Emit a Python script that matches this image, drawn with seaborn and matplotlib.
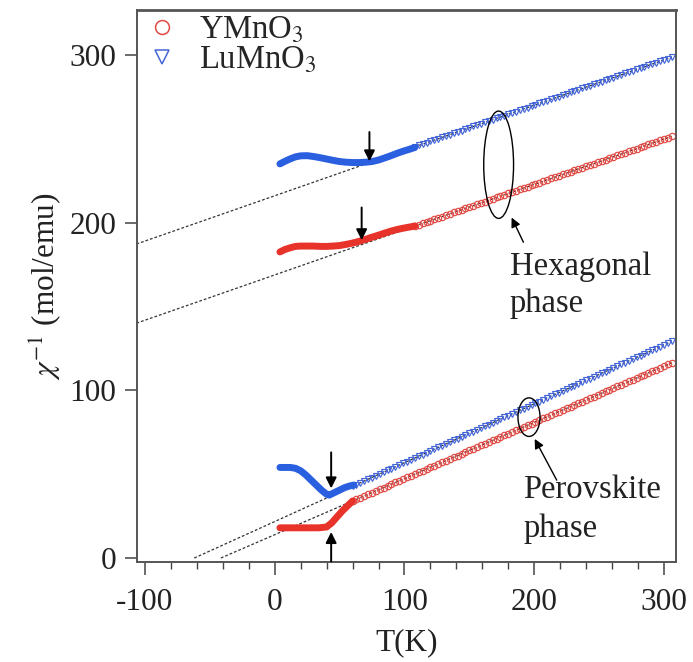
import matplotlib
matplotlib.use("Agg")
import matplotlib.pyplot as plt
from matplotlib.lines import Line2D
from matplotlib.patches import Ellipse
import numpy as np
import pandas as pd
import seaborn as sns

# ---------------- data ----------------
# high-temperature data points, hexagonal phase
hex_T = [108, 111, 114, 117, 120, 123, 126, 129, 132, 135, 138, 141, 144, 147,
         150, 153, 156, 159, 162, 165, 168, 171, 174, 177, 180, 183, 186, 189,
         192, 195, 198, 201, 204, 207, 210, 213, 216, 219, 222, 225, 228, 231,
         234, 237, 240, 243, 246, 249, 252, 255, 258, 261, 264, 267, 270, 273,
         276, 279, 282, 285, 288, 291, 294, 297, 300, 303, 306]
hex_Lu = [245.2, 246.0, 246.8, 247.6, 248.4, 249.2, 250.0, 250.8, 251.6, 252.4,
          253.3, 254.1, 254.9, 255.7, 256.5, 257.3, 258.1, 258.9, 259.7, 260.5,
          261.4, 262.2, 263.0, 263.8, 264.6, 265.4, 266.2, 267.0, 267.8, 268.6,
          269.5, 270.3, 271.1, 271.9, 272.7, 273.5, 274.3, 275.1, 275.9, 276.7,
          277.6, 278.4, 279.2, 280.0, 280.8, 281.6, 282.4, 283.2, 284.0, 284.8,
          285.7, 286.5, 287.3, 288.1, 288.9, 289.7, 290.5, 291.3, 292.1, 292.9,
          293.8, 294.6, 295.4, 296.2, 297.0, 297.8, 298.6]
hex_Y = [198.0, 198.8, 199.6, 200.4, 201.2, 202.0, 202.8, 203.6, 204.4, 205.2,
         206.1, 206.9, 207.7, 208.5, 209.3, 210.1, 210.9, 211.7, 212.5, 213.3,
         214.2, 215.0, 215.8, 216.6, 217.4, 218.2, 219.0, 219.8, 220.6, 221.4,
         222.3, 223.1, 223.9, 224.7, 225.5, 226.3, 227.1, 227.9, 228.7, 229.5,
         230.4, 231.2, 232.0, 232.8, 233.6, 234.4, 235.2, 236.0, 236.8, 237.6,
         238.5, 239.3, 240.1, 240.9, 241.7, 242.5, 243.3, 244.1, 244.9, 245.7,
         246.6, 247.4, 248.2, 249.0, 249.8, 250.6, 251.4]

# high-temperature data points, perovskite phase
per_T = [60, 63, 66, 69, 72, 75, 78, 81, 84, 87, 90, 93, 96, 99, 102, 105, 108,
         111, 114, 117, 120, 123, 126, 129, 132, 135, 138, 141, 144, 147, 150,
         153, 156, 159, 162, 165, 168, 171, 174, 177, 180, 183, 186, 189, 192,
         195, 198, 201, 204, 207, 210, 213, 216, 219, 222, 225, 228, 231, 234,
         237, 240, 243, 246, 249, 252, 255, 258, 261, 264, 267, 270, 273, 276,
         279, 282, 285, 288, 291, 294, 297, 300, 303, 306]
per_Lu = [42.8, 43.8, 44.9, 45.9, 47.0, 48.0, 49.1, 50.1, 51.2, 52.2, 53.3, 54.3,
          55.4, 56.4, 57.5, 58.6, 59.6, 60.7, 61.7, 62.8, 63.8, 64.9, 65.9, 67.0,
          68.0, 69.1, 70.1, 71.2, 72.2, 73.3, 74.4, 75.4, 76.5, 77.5, 78.6, 79.6,
          80.7, 81.7, 82.8, 83.8, 84.9, 85.9, 87.0, 88.0, 89.1, 90.1, 91.2, 92.3,
          93.3, 94.4, 95.4, 96.5, 97.5, 98.6, 99.6, 100.7, 101.7, 102.8, 103.8,
          104.9, 105.9, 107.0, 108.0, 109.1, 110.2, 111.2, 112.3, 113.3, 114.4,
          115.4, 116.5, 117.5, 118.6, 119.6, 120.7, 121.7, 122.8, 123.8, 124.9,
          125.9, 127.0, 128.1, 129.1]
per_Y = [34.0, 35.0, 36.0, 37.0, 38.0, 39.0, 40.0, 41.0, 42.0, 43.0, 44.1, 45.1,
         46.1, 47.1, 48.1, 49.1, 50.1, 51.1, 52.1, 53.1, 54.1, 55.1, 56.1, 57.1,
         58.1, 59.1, 60.1, 61.1, 62.1, 63.1, 64.2, 65.2, 66.2, 67.2, 68.2, 69.2,
         70.2, 71.2, 72.2, 73.2, 74.2, 75.2, 76.2, 77.2, 78.2, 79.2, 80.2, 81.2,
         82.2, 83.2, 84.3, 85.3, 86.3, 87.3, 88.3, 89.3, 90.3, 91.3, 92.3, 93.3,
         94.3, 95.3, 96.3, 97.3, 98.3, 99.3, 100.3, 101.3, 102.3, 103.3, 104.4,
         105.4, 106.4, 107.4, 108.4, 109.4, 110.4, 111.4, 112.4, 113.4, 114.4,
         115.4, 116.4]

# low-temperature dense data (drawn as thick curves)
hexLu_low_T = [4, 8, 12, 16, 20, 25, 30, 35, 40, 45, 50, 55, 60, 65, 70, 75, 80,
               85, 90, 95, 100, 105, 108]
hexLu_low = [235.0, 236.6, 238.0, 239.2, 239.8, 239.9, 239.4, 238.7, 237.9,
             237.1, 236.4, 236.0, 235.8, 235.8, 236.0, 236.4, 237.3, 238.6,
             240.0, 241.5, 242.8, 244.0, 244.8]
hexY_low_T = [4, 8, 12, 16, 20, 25, 30, 35, 40, 45, 50, 55, 60, 65, 70, 75, 80,
              85, 90, 95, 100, 105, 108]
hexY_low = [182.5, 184.0, 185.0, 185.8, 186.0, 186.0, 186.0, 185.8, 185.8,
            186.0, 186.3, 187.0, 187.8, 188.8, 190.0, 191.3, 192.5, 193.8,
            195.0, 196.0, 196.8, 197.5, 198.0]
perLu_low_T = [4, 8, 12, 16, 20, 24, 28, 32, 36, 40, 42, 46, 50, 54, 58, 61]
perLu_low = [54.0, 54.0, 54.0, 53.5, 52.0, 49.5, 46.5, 43.5, 40.5, 38.0, 37.5,
             39.0, 40.5, 42.0, 43.0, 43.5]
perY_low_T = [4, 10, 16, 22, 28, 34, 40, 44, 48, 52, 56, 60]
perY_low = [18.0, 18.0, 18.0, 18.0, 18.0, 18.0, 18.5, 21.0, 24.5, 28.0, 31.0, 34.0]

# Curie-Weiss extrapolations (dashed)
fit_hexLu_T, fit_hexLu = [-110, 306], [186.3, 298.6]
fit_hexY_T, fit_hexY = [-110, 306], [139.1, 251.4]
fit_perLu_T, fit_perLu = [-62, 306], [0.0, 129.1]
fit_perY_T, fit_perY = [-41.5, 306], [0.0, 116.4]

# transition arrows: (T, start, end)
arrows_T = [73, 67, 43.5, 43.5]
arrows_from = [254, 209, 63, -2]
arrows_to = [236.5, 189.5, 41.5, 15.5]

compounds = ["YMnO$_3$", "LuMnO$_3$"]
red = "#e8332b"
blue = "#2a5fe0"
red_m = "#e04a44"
blue_m = "#4566d8"

# ---------------- style ----------------
sns.set_theme(style="ticks")
plt.rcParams["font.family"] = ["Liberation Serif", "DejaVu Serif"]
plt.rcParams["mathtext.fontset"] = "stix"
plt.rcParams["axes.unicode_minus"] = False

fig = plt.figure(figsize=(6.93, 6.62), dpi=100)
ax = fig.add_axes([0.198, 0.151, 0.778, 0.834])

# dashed fits
for tt, yy in [(fit_hexLu_T, fit_hexLu), (fit_hexY_T, fit_hexY),
               (fit_perLu_T, fit_perLu), (fit_perY_T, fit_perY)]:
    sns.lineplot(x=tt, y=yy, ax=ax, color="#333333", lw=0.9,
                 linestyle=(0, (2.2, 1.6)), estimator=None, sort=False, zorder=1)

# open-marker data
for tt, yy, mk, col in [(hex_T, hex_Lu, "v", blue_m), (hex_T, hex_Y, "o", red_m),
                        (per_T, per_Lu, "v", blue_m), (per_T, per_Y, "o", red_m)]:
    sns.lineplot(x=tt, y=yy, ax=ax, linestyle="none", marker=mk, markersize=4.6,
                 markerfacecolor="none", markeredgecolor=col, markeredgewidth=0.85,
                 estimator=None, zorder=2)

# low-T thick curves
for tt, yy, col in [(hexLu_low_T, hexLu_low, blue), (hexY_low_T, hexY_low, red),
                    (perLu_low_T, perLu_low, blue), (perY_low_T, perY_low, red)]:
    sns.lineplot(x=tt, y=yy, ax=ax, color=col, lw=5, estimator=None,
                 solid_capstyle="round", zorder=3)

# transition arrows
for t, y0, y1 in zip(arrows_T, arrows_from, arrows_to):
    ax.annotate("", xy=(t, y1), xytext=(t, y0),
                arrowprops=dict(arrowstyle="-|>", color="black", lw=1.4,
                                mutation_scale=16, shrinkA=0, shrinkB=0),
                zorder=5)

# ellipses + phase labels
ax.add_patch(Ellipse((172.6, 234.5), 23, 64, fill=False, ec="black", lw=1.0, zorder=4))
ax.add_patch(Ellipse((196.0, 84.0), 17.0, 23, fill=False, ec="black", lw=1.0, zorder=4))
ax.annotate("", xy=(182.6, 203.0), xytext=(191.7, 188.3),
            arrowprops=dict(arrowstyle="-|>", color="black", lw=1.0,
                            mutation_scale=14, shrinkA=0, shrinkB=0))
ax.annotate("", xy=(200.4, 71.0), xytext=(217.4, 46.4),
            arrowprops=dict(arrowstyle="-|>", color="black", lw=1.0,
                            mutation_scale=14, shrinkA=0, shrinkB=0))
fs = 22.5
tfs = 23.5
ax.text(181, 168.5, "Hexagonal", fontsize=tfs, ha="left", va="baseline", color="#222")
ax.text(181, 146.4, "phase", fontsize=tfs, ha="left", va="baseline", color="#222")
ax.text(191.5, 35.7, "Perovskite", fontsize=tfs, ha="left", va="baseline", color="#222")
ax.text(191.5, 12.7, "phase", fontsize=tfs, ha="left", va="baseline", color="#222")

# legend
handles = [Line2D([], [], ls="none", marker="o", ms=10, mfc="none", mec=red_m, mew=1.1),
           Line2D([], [], ls="none", marker="v", ms=10, mfc="none", mec=blue_m, mew=1.1)]
ax.legend(handles, compounds, loc="upper left", frameon=False, fontsize=tfs,
          handletextpad=0.55, labelspacing=0.0, borderaxespad=0.05,
          handlelength=1.2, borderpad=0.1)

# axes
ax.set_xlim(-106, 309.6)
ax.set_ylim(-2.4, 326.8)
ax.set_xticks([-100, 0, 100, 200, 300])
ax.set_xticks(np.arange(-100, 301, 20), minor=True)
ax.set_yticks([0, 100, 200, 300])
ax.tick_params(axis="both", which="major", direction="out", length=9, width=1.1,
               labelsize=fs, color="#444", pad=6, labelcolor="#222")
ax.tick_params(axis="x", which="major", pad=10)
ax.tick_params(axis="x", which="minor", direction="out", length=5, width=1.0, color="#444")
for s in ax.spines.values():
    s.set_color("#555555")
    s.set_linewidth(1.4)
ax.spines["top"].set_linewidth(2.0)
ax.set_xlabel("T(K)", fontsize=fs, color="#222", labelpad=8)
ax.set_ylabel(r"$\chi^{-1}$ (mol/emu)", fontsize=fs, color="#222", labelpad=4)

fig.savefig("out.png", dpi=100)
